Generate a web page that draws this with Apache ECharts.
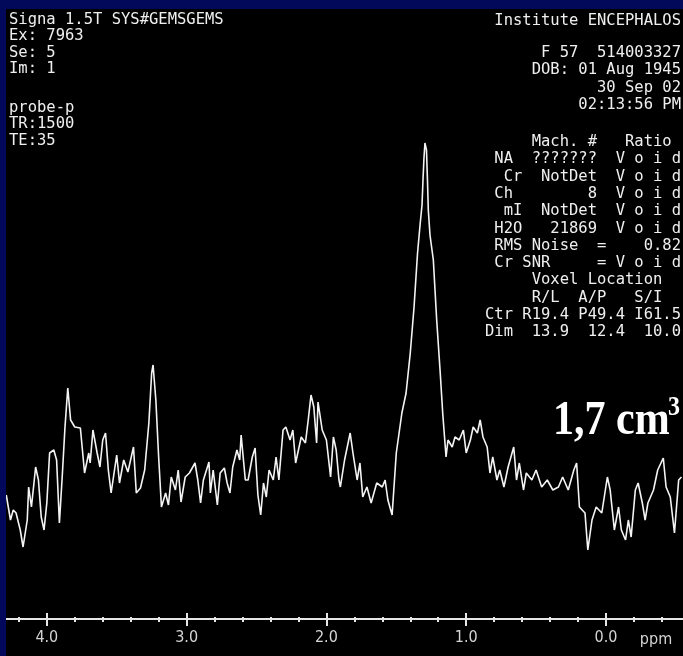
<!DOCTYPE html>
<html>
<head>
<meta charset="utf-8">
<script src="https://cdn.jsdelivr.net/npm/echarts@6/dist/echarts.min.js"></script>
<style>
  html, body { margin: 0; padding: 0; background: #000; }
  #chart { width: 683px; height: 656px; }
</style>
</head>
<body>
<div id="chart"></div>
<script>
// Chemical shift (ppm) of each sampled point of the spectrum
const ppm = [
  4.29, 4.26, 4.24, 4.22, 4.19, 4.17, 4.14, 4.13, 4.11, 4.08, 4.06, 4.04, 4.02, 4.00,
  3.98, 3.95, 3.93, 3.91, 3.89, 3.87, 3.85, 3.83, 3.80, 3.76, 3.73, 3.70, 3.69, 3.67,
  3.64, 3.62, 3.60, 3.58, 3.56, 3.54, 3.50, 3.48, 3.45, 3.42, 3.38, 3.36, 3.33, 3.30,
  3.27, 3.25, 3.24, 3.22, 3.20, 3.18, 3.15, 3.13, 3.11, 3.08, 3.06, 3.04, 3.01, 2.98,
  2.94, 2.92, 2.90, 2.88, 2.84, 2.83, 2.81, 2.78, 2.76, 2.73, 2.71, 2.69, 2.67, 2.64,
  2.62, 2.61, 2.58, 2.56, 2.53, 2.51, 2.49, 2.47, 2.45, 2.43, 2.41, 2.38, 2.36, 2.34,
  2.31, 2.29, 2.26, 2.24, 2.22, 2.20, 2.18, 2.15, 2.13, 2.11, 2.09, 2.07, 2.06, 2.03,
  2.00, 1.97, 1.95, 1.93, 1.91,
  1.90, 1.87, 1.83, 1.81, 1.78, 1.76, 1.74, 1.71, 1.68, 1.64, 1.60, 1.58, 1.56, 1.53,
  1.50, 1.46, 1.43, 1.40, 1.373, 1.348, 1.330, 1.316, 1.309, 1.302, 1.295, 1.284, 1.277,
  1.271, 1.259, 1.235, 1.211, 1.187, 1.168, 1.144,
  1.13, 1.10, 1.08, 1.05, 1.02, 1.00, 0.97, 0.95, 0.92, 0.90, 0.88, 0.85, 0.83, 0.81,
  0.78, 0.76, 0.73, 0.70, 0.66, 0.64, 0.62, 0.59, 0.57, 0.53, 0.50, 0.46, 0.42, 0.38,
  0.34, 0.31, 0.27, 0.23, 0.21, 0.19, 0.15, 0.13, 0.10, 0.07, 0.03, -0.01, -0.03, -0.06,
  -0.09, -0.11, -0.14, -0.16, -0.18, -0.21, -0.23, -0.26, -0.28, -0.30, -0.34, -0.37,
  -0.41, -0.43, -0.46, -0.49, -0.52, -0.54
];

// Signal amplitude (arbitrary units) at each ppm value
const signal = [
  124, 99, 109, 106, 89, 72, 99, 132, 112, 152, 139, 102, 89, 116,
  166, 169, 159, 96, 142, 192, 231, 199, 192, 191, 146, 166, 156, 189,
  166, 152, 179, 186, 149, 126, 164, 136, 159, 147, 172, 126, 131, 149,
  196, 246, 254, 219, 162, 112, 126, 114, 142, 129, 149, 117, 142, 146,
  156, 139, 116, 139, 157, 126, 149, 114, 146, 151, 136, 126, 152, 169,
  159, 184, 139, 139, 162, 171, 124, 104, 136, 122, 149, 139, 162, 139,
  189, 192, 179, 189, 156, 169, 182, 176, 199, 224, 212, 176, 217, 189,
  179, 142, 182, 169, 139,
  132, 159, 186, 166, 139, 156, 122, 132, 116, 136, 132, 139, 119, 104,
  166, 206, 226, 266, 312, 366, 394, 414, 439, 461, 476, 469, 439,
  409, 384, 359, 299, 249, 206, 162,
  179, 172, 182, 179, 189, 166, 179, 192, 186, 199, 182, 172, 146, 162,
  139, 149, 132, 152, 172, 139, 156, 129, 146, 139, 149, 132, 139, 129,
  132, 142, 129, 149, 156, 112, 106, 69, 99, 112, 106, 142, 129, 89,
  112, 89, 79, 99, 82, 129, 136, 116, 99, 116, 129, 149,
  161, 132, 122, 86, 139, 142
];

// Chemical shift axis
const majorTicks = [4, 3, 2, 1, 0];
const minorTicks = [4.2, 3.8, 3.6, 3.4, 3.2, 2.8, 2.6, 2.4, 2.2, 1.8, 1.6, 1.4, 1.2,
                    0.8, 0.6, 0.4, 0.2, -0.2, -0.4];
const ppmRange = [-0.551, 4.292];
const axisUnit = 'ppm';

// Scanner annotations
const scanInfo = ['Signa 1.5T SYS#GEMSGEMS', 'Ex: 7963', 'Se: 5', 'Im: 1'];
const sequenceInfo = ['probe-p', 'TR:1500', 'TE:35'];
const siteName = 'Institute ENCEPHALOS';
const patientInfo = ['F 57  514003327', 'DOB: 01 Aug 1945', '30 Sep 02', '02:13:56 PM'];
const metaboliteTable = [
  'Mach. #   Ratio ',
  'NA  ???????  V o i d',
  ' Cr  NotDet  V o i d',
  'Ch        8  V o i d',
  ' mI  NotDet  V o i d',
  'H2O   21869  V o i d',
  'RMS Noise  =    0.82',
  'Cr SNR     = V o i d',
  'Voxel Location  ',
  'R/L  A/P   S/I  ',
  'Ctr R19.4 P49.4 I61.5',
  'Dim  13.9  12.4  10.0'
];
const voxelVolume = '1,7 cm';
const volumeExponent = '3';

const points = ppm.map((p, i) => [p, signal[i]]);

const MONO = "'DejaVu Sans Mono', 'Liberation Mono', monospace";
const TEXT_COLOR = '#efefef';
const BORDER_BLUE = '#03095a';

function monoLine(text, x, y, align) {
  return {
    type: 'text', x: x, y: y, z: 10,
    style: {
      text: text, fill: TEXT_COLOR, font: '15.5px ' + MONO,
      textAlign: align, textVerticalAlign: 'middle'
    }
  };
}

const graphics = [];
scanInfo.forEach((t, i) => graphics.push(monoLine(t, 9, 19.5 + i * 16.5, 'left')));
sequenceInfo.forEach((t, i) => graphics.push(monoLine(t, 9, 107.5 + i * 16.5, 'left')));
graphics.push(monoLine(siteName, 681, 21, 'right'));
patientInfo.forEach((t, i) => graphics.push(monoLine(t, 681, 53 + i * 17.3, 'right')));
metaboliteTable.forEach((t, i) => graphics.push(monoLine(t, 681, 142 + i * 17.3, 'right')));

graphics.push({
  type: 'text', x: 553, y: 421, scaleY: 1.18, z: 10,
  style: {
    text: voxelVolume, fill: '#ffffff',
    font: "bold 42px 'Liberation Serif', 'Times New Roman', serif",
    textAlign: 'left', textVerticalAlign: 'middle'
  }
});
graphics.push({
  type: 'text', x: 668, y: 408, scaleY: 1.18, z: 10,
  style: {
    text: volumeExponent, fill: '#ffffff',
    font: "bold 24px 'Liberation Serif', 'Times New Roman', serif",
    textAlign: 'left', textVerticalAlign: 'middle'
  }
});
graphics.push({
  type: 'text', x: 656, y: 640, z: 10,
  style: {
    text: axisUnit, fill: '#d4d4d4',
    font: "16px 'DejaVu Sans Condensed', 'DejaVu Sans', sans-serif",
    textAlign: 'center', textVerticalAlign: 'middle'
  }
});
// Frame strips along the top and left edges
graphics.push({ type: 'rect', shape: { x: 0, y: 0, width: 683, height: 9 }, style: { fill: BORDER_BLUE }, z: 20 });
graphics.push({ type: 'rect', shape: { x: 0, y: 0, width: 6, height: 656 }, style: { fill: BORDER_BLUE }, z: 20 });

function tickAxis(values, length, inside, showLine, showLabel) {
  return {
    type: 'value', gridIndex: 0, position: 'bottom', offset: 0,
    inverse: true, min: ppmRange[0], max: ppmRange[1],
    axisLine: { show: showLine, onZero: false, lineStyle: { color: '#e6e6e6', width: 2 } },
    axisTick: {
      show: true, inside: inside, length: length, customValues: values,
      lineStyle: { color: '#e6e6e6', width: 2 }
    },
    axisLabel: {
      show: showLabel, customValues: values, margin: 11,
      color: '#d4d4d4', fontSize: 16,
      fontFamily: "'DejaVu Sans Condensed', 'DejaVu Sans', sans-serif",
      formatter: v => v.toFixed(1)
    },
    splitLine: { show: false },
    minorTick: { show: false },
    axisPointer: { show: false }
  };
}

const chart = echarts.init(document.getElementById('chart'), null, { renderer: 'canvas' });
chart.setOption({
  backgroundColor: '#000000',
  animation: false,
  grid: { left: 6, right: 0, top: 0, bottom: 37, containLabel: false },
  xAxis: [
    tickAxis(majorTicks, 7, false, true, true),
    tickAxis(majorTicks, 6, true, false, false),
    tickAxis(minorTicks, 3, false, false, false),
    tickAxis(minorTicks, 2, true, false, false)
  ],
  yAxis: { type: 'value', min: 0, max: 619, show: false, splitLine: { show: false } },
  series: [{
    type: 'line', xAxisIndex: 0, yAxisIndex: 0,
    data: points, showSymbol: false, smooth: false,
    lineStyle: { color: '#f4f4f4', width: 1.6 }
  }],
  graphic: graphics
});
</script>
</body>
</html>
